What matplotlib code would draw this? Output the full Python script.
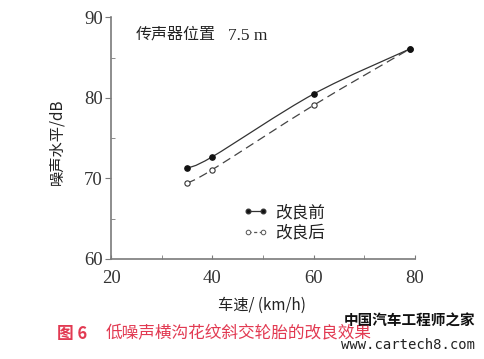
import matplotlib
matplotlib.use("Agg")
import matplotlib.pyplot as plt
from matplotlib.path import Path
from matplotlib.patches import PathPatch
from matplotlib.lines import Line2D
from matplotlib.ticker import MultipleLocator

speed = [35, 40, 60, 79]
before = [71.3, 72.7, 80.5, 86.1]
after = [69.4, 71.1, 79.1, 86.1]
label_before = "改良前"
label_after = "改良后"
note_cn = "传声器位置"
note_num = "7.5 m"
xlabel = "车速/ (km/h)"
ylabel = "噪声水平/dB"
caption_num = "图 6"
caption = "低噪声横沟花纹斜交轮胎的改良效果"

CJK = ["Noto Sans CJK SC", "DejaVu Sans"]

fig = plt.figure(figsize=(4.85, 3.59), dpi=100)
ax = fig.add_axes([0.2289, 0.2786, 0.6268, 0.6727])
ax.set_xlim(20, 80)
ax.set_ylim(60, 90)
ax.xaxis.set_major_locator(MultipleLocator(20))
ax.xaxis.set_minor_locator(MultipleLocator(10))
ax.yaxis.set_major_locator(MultipleLocator(10))
ax.yaxis.set_minor_locator(MultipleLocator(5))
for s in ["top", "right"]:
    ax.spines[s].set_visible(False)
for s in ["left", "bottom"]:
    ax.spines[s].set_color("#7a7a7a")
    ax.spines[s].set_linewidth(1.2)
ax.tick_params(axis="x", which="both", direction="in", length=3, color="#7a7a7a", pad=8)
ax.tick_params(axis="y", which="major", direction="out", length=4, color="#7a7a7a", pad=2)
ax.tick_params(axis="y", which="minor", direction="in", length=3, color="#7a7a7a")
ax.tick_params(axis="both", which="major", labelsize=13.5, labelcolor="#333333",
               labelfontfamily="Liberation Serif")


def smooth_path(xs, ys):
    pts = list(zip(xs, ys))
    n = len(pts)
    verts = [pts[0]]
    codes = [Path.MOVETO]
    for i in range(n - 1):
        p0 = pts[i - 1] if i > 0 else pts[i]
        p1 = pts[i]
        p2 = pts[i + 1]
        p3 = pts[i + 2] if i + 2 < n else pts[i + 1]
        c1 = (p1[0] + (p2[0] - p0[0]) / 6, p1[1] + (p2[1] - p0[1]) / 6)
        c2 = (p2[0] - (p3[0] - p1[0]) / 6, p2[1] - (p3[1] - p1[1]) / 6)
        verts += [c1, c2, p2]
        codes += [Path.CURVE4] * 3
    return Path(verts, codes)


ax.add_patch(PathPatch(smooth_path(speed, after), facecolor="none",
                       edgecolor="#444444", lw=0.9, linestyle=(0, (7, 4))))
ax.add_patch(PathPatch(smooth_path(speed, before), facecolor="none",
                       edgecolor="#333333", lw=0.9))
ax.plot(speed, after, linestyle="none", marker="o", ms=3.8, mfc="white",
        mec="#333333", mew=0.8)
ax.plot(speed, before, linestyle="none", marker="o", ms=3.8, color="#111111")

h1 = Line2D([], [], color="#333333", lw=0.9, marker="o", ms=3.3, mfc="#111111")
h2 = Line2D([], [], color="#555555", lw=0.9, ls=(0, (2.5, 2)), marker="o", ms=3.3,
            mfc="white", mec="#555555", mew=0.7)
leg = ax.legend([h1, h2], [label_before, label_after], numpoints=2, frameon=False,
                loc="center left", bbox_to_anchor=(0.385, 0.15), handlelength=1.5,
                handletextpad=0.4, labelspacing=0.2,
                prop={"family": CJK, "size": 12})
for t in leg.get_texts():
    t.set_color("#222222")

ax.text(0.08, 0.93, note_cn, transform=ax.transAxes, family=CJK, fontsize=11.5,
        color="#222222", va="center", ha="left")
ax.text(0.385, 0.925, note_num, transform=ax.transAxes, family="Liberation Serif",
        fontsize=12.5, color="#222222", va="center", ha="left")

fig.text(262 / 485, 1 - 305 / 359, xlabel, family=CJK, fontsize=11,
         color="#222222", ha="center", va="center")
fig.text(57 / 485, 1 - 142 / 359, ylabel, family=CJK, fontsize=11,
         color="#222222", ha="center", va="center", rotation=90)

red = "#e23a52"
fig.text(57 / 485, 1 - 334 / 359, caption_num, family=CJK, fontsize=12,
         fontweight="bold", color=red, ha="left", va="center")
fig.text(106 / 485, 1 - 334 / 359, caption, family=CJK, fontsize=12,
         color=red, ha="left", va="center")

fig.text(475 / 485, 1 - 321 / 359, "中国汽车工程师之家", family=CJK, fontsize=10.5,
         fontweight="bold", color="#111111", ha="right", va="center")
fig.text(475 / 485, 1 - 345 / 359, "www.cartech8.com", family=["DejaVu Sans Mono"],
         fontsize=10, color="#222222", ha="right", va="center")

fig.savefig("out.png", dpi=100)
